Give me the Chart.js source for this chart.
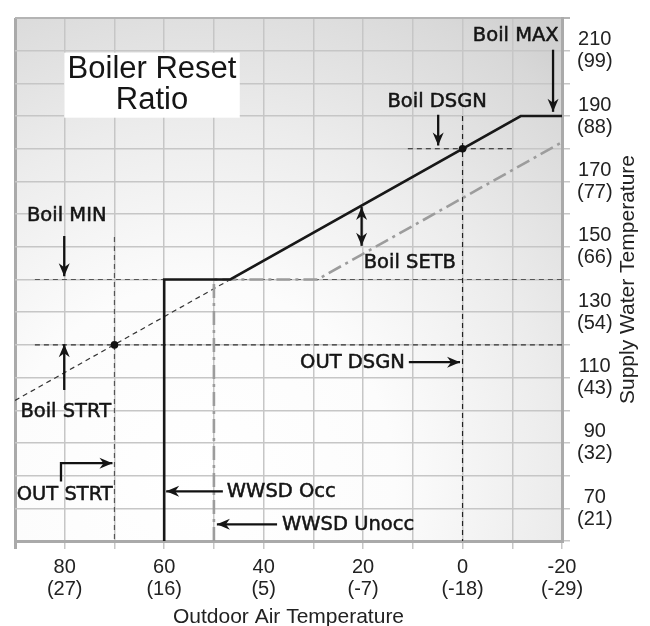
<!DOCTYPE html>
<html>
<head>
<meta charset="utf-8">
<title>Boiler Reset Ratio</title>
<script src="https://cdn.jsdelivr.net/npm/chart.js@4.4.1/dist/chart.umd.min.js"></script>
<style>
  html, body { margin: 0; padding: 0; background: #fff; }
  canvas { display: block; }
</style>
</head>
<body>
<canvas id="chart" width="650" height="626"></canvas>
<script>
// ---- tick labels (°F with °C below) ----
const xTickF = [80, 60, 40, 20, 0, -20];
const xTickC = ['(27)', '(16)', '(5)', '(-7)', '(-18)', '(-29)'];
const yTickF = [210, 190, 170, 150, 130, 110, 90, 70];
const yTickC = ['(99)', '(88)', '(77)', '(66)', '(54)', '(43)', '(32)', '(21)'];

// ---- curves (outdoor °F, supply °F) ----
const occX = [60, 60, 46.7, -11.7, -20];
const occY = [60, 140, 140, 190, 190];
const unoccX = [50, 50, 29.2, -20];
const unoccY = [60, 140, 140, 182];
const ratioX = [90, 46.7];
const ratioY = [103, 140];

// ---- dashed guide lines ----
const minGuideX = [86, -20];
const minGuideY = [140, 140];
const strtGuideX = [86, -20];
const strtGuideY = [120, 120];
const outStrtX = [70, 70];
const outStrtY = [153, 60];
const outDsgnX = [0, 0];
const outDsgnY = [190, 60];
const dsgnGuideX = [11, -10];
const dsgnGuideY = [180, 180];

// ---- setpoint dots ----
const dotX = [70, 0];
const dotY = [120, 180];

const TICK_FONT = '"Liberation Sans", Arial, Helvetica, sans-serif';
const NOTE_FONT = '"DejaVu Sans", sans-serif';

function pts(xs, ys) {
    return xs.map((x, i) => ({ x: x, y: ys[i] }));
}

function guide(xs, ys, color) {
    return {
        data: pts(xs, ys), showLine: true, borderColor: color, borderWidth: 1.2,
        borderDash: [5, 4], pointRadius: 0, fill: false
    };
}

// background shading behind the grid
const backdrop = {
    id: 'backdrop',
    beforeDraw(chart) {
        const { ctx, chartArea: a } = chart;
        const g = ctx.createRadialGradient(200, 480, 0, 200, 480, 650);
        g.addColorStop(0, '#ffffff');
        g.addColorStop(0.3, '#fcfcfc');
        g.addColorStop(0.55, '#ececec');
        g.addColorStop(0.8, '#d8d8d8');
        g.addColorStop(1, '#c0c0c0');
        ctx.save();
        ctx.fillStyle = g;
        ctx.fillRect(a.left, a.top, a.right - a.left, a.bottom - a.top);
        ctx.restore();
    }
};

function arrowHead(ctx, x1, y1, x2, y2) {
    const ang = Math.atan2(y2 - y1, x2 - x1);
    const len = 13, half = 5.5;
    ctx.save();
    ctx.translate(x2, y2);
    ctx.rotate(ang);
    ctx.beginPath();
    ctx.moveTo(0, 0);
    ctx.lineTo(-len, -half);
    ctx.lineTo(-len + 4, 0);
    ctx.lineTo(-len, half);
    ctx.closePath();
    ctx.fill();
    ctx.restore();
}

// labels and arrows, placed in data units
const notes = {
    id: 'notes',
    afterDraw(chart) {
        const { ctx, chartArea: a } = chart;
        const sx = chart.scales.x, sy = chart.scales.y;
        const X = v => sx.getPixelForValue(v);
        const Y = v => sy.getPixelForValue(v);

        ctx.save();
        ctx.fillStyle = '#111';
        ctx.strokeStyle = '#111';
        ctx.lineWidth = 2.3;

        function arrow(path, both) {
            ctx.beginPath();
            ctx.moveTo(X(path[0][0]), Y(path[0][1]));
            for (let i = 1; i < path.length; i++) ctx.lineTo(X(path[i][0]), Y(path[i][1]));
            ctx.stroke();
            const n = path.length;
            arrowHead(ctx, X(path[n - 2][0]), Y(path[n - 2][1]), X(path[n - 1][0]), Y(path[n - 1][1]));
            if (both) arrowHead(ctx, X(path[1][0]), Y(path[1][1]), X(path[0][0]), Y(path[0][1]));
        }

        function text(str, x, y, align, bold) {
            ctx.textAlign = align || 'center';
            ctx.textBaseline = 'middle';
            ctx.fillText(str, X(x), Y(y));
            if (bold) {
                ctx.save();
                ctx.lineWidth = 0.5;
                ctx.strokeText(str, X(x), Y(y));
                ctx.restore();
            }
        }

        // title box
        ctx.fillStyle = '#ffffff';
        ctx.fillRect(X(80.1), Y(209.4), X(44.8) - X(80.1), Y(189.5) - Y(209.4));
        ctx.fillStyle = '#151515';
        ctx.font = '31px ' + TICK_FONT;
        text('Boiler Reset', 62.45, 204.4);
        text('Ratio', 62.45, 194.8);

        ctx.font = '19.5px ' + NOTE_FONT;
        text('Boil MIN', 79.6, 159.3, 'center', true);
        arrow([[80.1, 153.3], [80.1, 141]]);

        text('Boil STRT', 79.8, 99.5, 'center', true);
        arrow([[80.1, 106.2], [80.1, 120.2]]);

        text('OUT STRT', 80.0, 74.2, 'center', true);
        arrow([[80.75, 78.2], [80.75, 83.8], [70.4, 83.8]]);

        text('WWSD Occ', 47.4, 75.1, 'left', true);
        arrow([[48.2, 75.2], [59.6, 75.2]]);

        text('WWSD Unocc', 36.3, 64.8, 'left', true);
        arrow([[37.3, 65.1], [49.4, 65.1]]);

        text('OUT DSGN', 11.6, 114.6, 'right', true);
        arrow([[10.8, 114.7], [0.5, 114.7]]);

        text('Boil SETB', 10.6, 145.1, 'center', true);
        arrow([[20.3, 150.3], [20.3, 162.2]], true);

        text('Boil DSGN', 5.1, 194.2, 'center', true);
        arrow([[4.9, 190.4], [4.9, 181]]);

        text('Boil MAX', -10.7, 214.4, 'center', true);
        arrow([[-18.2, 210.3], [-18.2, 191.3]]);

        // vertical axis title, reading upward
        ctx.font = '21px ' + TICK_FONT;
        ctx.fillStyle = '#222';
        ctx.translate(628, (a.top + a.bottom) / 2);
        ctx.rotate(-Math.PI / 2);
        ctx.textAlign = 'center';
        ctx.textBaseline = 'middle';
        ctx.fillText('Supply Water Temperature', 0, 0);
        ctx.restore();
    }
};

const chart = new Chart(document.getElementById('chart'), {
    type: 'scatter',
    data: {
        datasets: [
            { data: pts(dotX, dotY), pointRadius: 3.8, pointBackgroundColor: '#111', pointBorderWidth: 0, showLine: false },
            { data: pts(occX, occY), showLine: true, borderColor: '#181818', borderWidth: 2.6, pointRadius: 0 },
            { data: pts(unoccX, unoccY), showLine: true, borderColor: '#9c9c9c', borderWidth: 2.6, borderDash: [14, 5, 3, 5], pointRadius: 0 },
            guide(ratioX, ratioY, '#333'),
            guide(dsgnGuideX, dsgnGuideY, '#222'),
            guide(outDsgnX, outDsgnY, '#222'),
            guide(outStrtX, outStrtY, '#555'),
            guide(strtGuideX, strtGuideY, '#333'),
            guide(minGuideX, minGuideY, '#555')
        ]
    },
    options: {
        responsive: false,
        animation: false,
        layout: { padding: { left: 15, top: 11, right: 0, bottom: 0 } },
        plugins: { legend: { display: false }, tooltip: { enabled: false } },
        scales: {
            x: {
                type: 'linear', reverse: true, min: -20, max: 90,
                afterFit(s) { s.height = 85; },
                grid: {
                    color: c => (c.tick && c.tick.value === 90) ? '#aaaaaa' : '#c6c6c6',
                    lineWidth: c => (c.tick && c.tick.value === 90) ? 3 : 1.5,
                    tickLength: 8
                },
                border: { color: '#aaaaaa', width: 3 },
                ticks: {
                    stepSize: 10, autoSkip: false, maxRotation: 0, padding: 7,
                    color: '#222', font: { family: TICK_FONT, size: 20, lineHeight: 1.1 },
                    callback(v) {
                        const i = xTickF.indexOf(Math.round(v));
                        return i < 0 ? '' : [String(xTickF[i]), xTickC[i]];
                    }
                },
                title: {
                    display: true, text: 'Outdoor Air Temperature', color: '#222',
                    font: { family: TICK_FONT, size: 21, lineHeight: 0.8 },
                    padding: { top: 0, bottom: 0 }
                }
            },
            y: {
                type: 'linear', position: 'right', min: 60, max: 220,
                afterFit(s) { s.width = 88; },
                grid: {
                    color: c => (c.tick && c.tick.value === 220) ? '#b4b4b4' : '#c6c6c6',
                    lineWidth: c => (c.tick && c.tick.value === 220) ? 2 : 1.5,
                    tickLength: 8
                },
                border: { color: '#aaaaaa', width: 3 },
                ticks: {
                    stepSize: 10, autoSkip: false, crossAlign: 'center', padding: 7,
                    color: '#222', font: { family: TICK_FONT, size: 20, lineHeight: 1.1 },
                    callback(v) {
                        const i = yTickF.indexOf(Math.round(v));
                        return i < 0 ? '' : [String(yTickF[i]), yTickC[i]];
                    }
                }
            }
        }
    },
    plugins: [backdrop, notes]
});
</script>
</body>
</html>
